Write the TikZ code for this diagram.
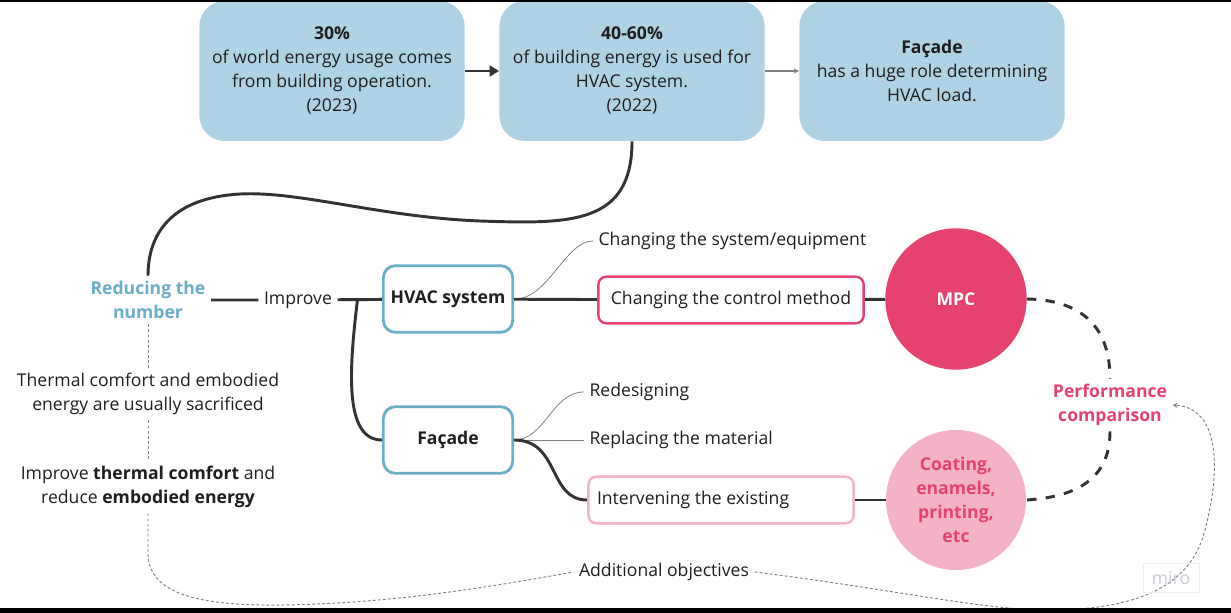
\documentclass[tikz,border=0pt]{standalone}
\usepackage{fontspec}
\setmainfont{Open Sans}
\usepackage{tikz}
\usetikzlibrary{positioning,calc,arrows.meta}
\definecolor{boxblue}{HTML}{ADD3E4}
\definecolor{tealline}{HTML}{6AAFC7}
\definecolor{mpcpink}{HTML}{E5426F}
\definecolor{softpink}{HTML}{F4B3C7}
\definecolor{inkdark}{HTML}{1E1E1E}
\definecolor{wiregray}{HTML}{333333}
\definecolor{miroink}{HTML}{C9C9DA}
\newcommand{\bodyfont}{\fontsize{13.2}{18}\selectfont}
\tikzset{
  factbox/.style={fill=boxblue, rounded corners=19pt, minimum width=199pt, minimum height=105pt, align=center},
  topicbox/.style={draw=tealline, line width=2.1pt, fill=white, rounded corners=9pt, minimum width=97pt, minimum height=50pt, font=\bodyfont\bfseries},
  methodbox/.style={draw=mpcpink, line width=1.8pt, fill=white, rounded corners=6pt, minimum width=199pt, minimum height=35pt},
  softbox/.style={methodbox, draw=softpink},
  bubble/.style={circle, align=center, font=\bodyfont\bfseries},
  mainwire/.style={wiregray, line width=2.2pt},
  thinwire/.style={gray, line width=0.6pt},
  dotwire/.style={gray, line width=0.7pt, dash pattern=on 2.2pt off 1.6pt},
}
\begin{document}
\begin{tikzpicture}[x=0.75pt,y=-0.75pt,>=stealth,
  every node/.style={font=\bodyfont, text=inkdark, inner sep=4pt}]
  \useasboundingbox (0,0) rectangle (1231,613);
  % facts row
  \node[factbox] (usage) at (332,71) {\textbf{30\%}\\of world energy usage comes\\from building operation.\\(2023)};
  \node[factbox] (hvacshare) at (632,71) {\textbf{40-60\%}\\of building energy is used for\\HVAC system.\\(2022)};
  \node[factbox] (role) at (932,71) {\textbf{Façade}\\has a huge role determining\\HVAC load.};
  \draw[mainwire, -{Triangle[length=7pt,width=8pt]}] (usage) -- (hvacshare);
  \draw[gray, line width=0.8pt, ->] (hvacshare) -- (role);
  % goal and branches
  \node[align=center, text=tealline, font=\bodyfont\bfseries] (reduce) at (148,300) {Reducing the\\number};
  \node (improve) at (298,300) {Improve};
  \node[topicbox] (hvac) at (448,299) {HVAC system};
  \node[topicbox] (facade) at (448,440) {Façade};
  \coordinate (split) at ($(improve.east)!0.45!(hvac.west)$);
  \draw[mainwire] (hvacshare.south) .. controls (632,225) and (570,224) .. (480,221)
    .. controls (380,217) and (300,191) .. (240,194) .. controls (170,198) and (148,235) .. (reduce.north);
  \draw[mainwire] (reduce) -- (improve) -- (hvac);
  \draw[mainwire] (split) .. controls (349,370) and (344,440) .. (facade.west);
  % HVAC side
  \node[anchor=west] (sysswap) at (593,241) {Changing the system/equipment};
  \node[methodbox] (control) at (731,300) {Changing the control method};
  \node[bubble, fill=mpcpink, text=white, minimum size=106pt] (mpc) at (956,299) {MPC};
  \draw[thinwire] (hvac.east) .. controls (548,300) and (565,241) .. (sysswap.west);
  \draw[mainwire] (hvac) -- (control) -- (mpc);
  % facade side
  \node[anchor=west] (redesign) at (584,392) {Redesigning};
  \node[anchor=west] (replace) at (584,440) {Replacing the material};
  \node[softbox, text width=186pt, align=flush left] (intervene) at (721,500) {Intervening the existing};
  \node[bubble, fill=softpink, text=mpcpink, minimum size=105pt] (coating) at (956,500) {Coating,\\enamels,\\printing,\\etc};
  \draw[thinwire] (facade.east) .. controls (545,440) and (552,392) .. (redesign.west);
  \draw[thinwire] (facade.east) -- (replace.west);
  \draw[mainwire] (facade.east) .. controls (560,440) and (548,500) .. (intervene.west);
  \draw[mainwire] (intervene) -- (coating);
  % comparison
  \node[align=center, text=mpcpink, font=\bodyfont\bfseries] (perf) at (1110,405) {Performance\\comparison};
  \draw[mainwire, dash pattern=on 7pt off 7pt] (mpc.east) .. controls (1085,300) and (1110,330) .. (perf.north);
  \draw[mainwire, dash pattern=on 7pt off 7pt] (perf.south) .. controls (1110,480) and (1075,497) .. (coating.east);
  % side notes
  \node[align=center] (sacrifice) at (148,394) {Thermal comfort and embodied\\energy are usually sacrificed};
  \node[align=center] (bonus) at (148,487) {Improve \textbf{thermal comfort} and\\reduce \textbf{embodied energy}};
  \node (extra) at (664,572) {Additional objectives};
  \draw[dotwire] (reduce.south) -- (sacrifice.north);
  \draw[dotwire] (sacrifice.south) -- (bonus.north);
  \draw[dotwire] (bonus.south) -- (148,555) .. controls (150,598) and (210,606) .. (285,605)
    .. controls (400,603) and (500,585) .. (extra.west);
  \draw[dotwire, ->] (extra.east) .. controls (900,590) and (990,612) .. (1060,610)
    .. controls (1150,607) and (1192,580) .. (1205,530) .. controls (1222,465) and (1218,408) .. (perf.east);
  % watermark
  \node[draw=gray!12, text=miroink, minimum width=42pt, minimum height=22pt, inner sep=2pt] (miro) at (1171,578) {miro};
  % frame strips
  \fill[black] (0,0) rectangle (1231,2);
  \fill[black] (0,608) rectangle (1231,613);
\end{tikzpicture}
\end{document}
